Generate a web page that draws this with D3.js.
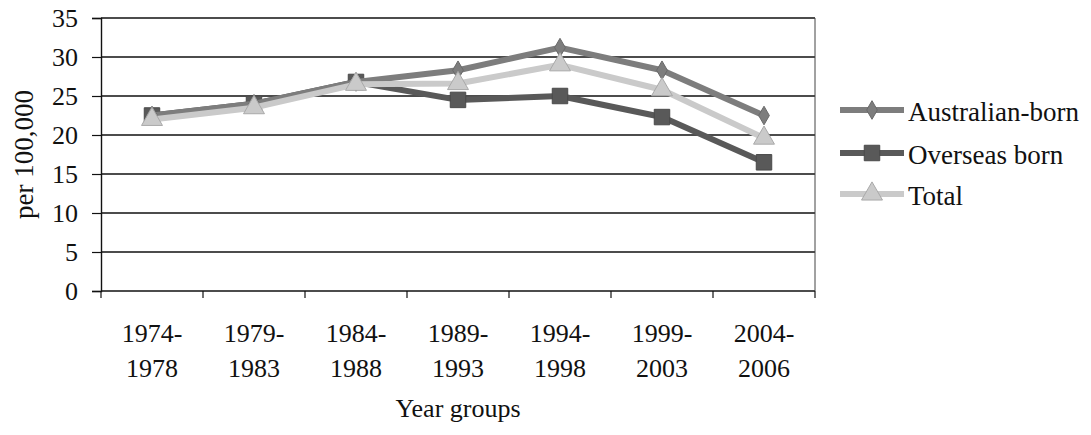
<!doctype html>
<html>
<head>
<meta charset="utf-8">
<script src="https://d3js.org/d3.v7.min.js"></script>
<style>
  body { margin: 0; background: #fff; }
  text { font-family: "Liberation Serif", "Times New Roman", serif; fill: #111; }
</style>
</head>
<body>
<svg width="1091" height="435"></svg>
<script>
// data
var periods = ["1974-1978", "1979-1983", "1984-1988", "1989-1993", "1994-1998", "1999-2003", "2004-2006"];
var australianBorn = [22.5, 24, 26.8, 28.3, 31.2, 28.3, 22.5];
var overseasBorn = [22.5, 24, 26.8, 24.5, 25, 22.3, 16.5];
var total = [22, 23.5, 26.5, 26.6, 29, 25.8, 19.6];
var yTicks = [0, 5, 10, 15, 20, 25, 30, 35];

var series = [
  { name: "Australian-born", values: australianBorn, color: "#7d7d7d", marker: "diamond" },
  { name: "Overseas born", values: overseasBorn, color: "#595959", marker: "square" },
  { name: "Total", values: total, color: "#cacaca", marker: "triangle" }
];

var svg = d3.select("svg");
var plotLeft = 101, plotRight = 815, plotTop = 18, plotBottom = 291;

var x = d3.scaleBand().domain(periods).range([plotLeft, plotRight]);
var y = d3.scaleLinear().domain([0, 35]).range([plotBottom, plotTop]);

// gridlines
svg.append("g").selectAll("line")
  .data(yTicks)
  .enter().append("line")
  .attr("x1", plotLeft).attr("x2", plotRight)
  .attr("y1", function (d) { return y(d); })
  .attr("y2", function (d) { return y(d); })
  .attr("stroke", "#111").attr("stroke-width", 1.4);

// right border
svg.append("line")
  .attr("x1", plotRight).attr("x2", plotRight).attr("y1", plotTop).attr("y2", plotBottom)
  .attr("stroke", "#444").attr("stroke-width", 1);

// y axis
var yAxis = svg.append("g")
  .attr("transform", "translate(" + plotLeft + ",0)")
  .call(d3.axisLeft(y).tickValues(yTicks).tickSize(9).tickPadding(14));
yAxis.select(".domain").attr("stroke", "#111").attr("stroke-width", 1.4);
yAxis.selectAll(".tick line").attr("stroke", "#111").attr("stroke-width", 1.2);
yAxis.selectAll(".tick text")
  .attr("font-size", "26px")
  .attr("font-family", "Liberation Serif, serif")
  .attr("fill", "#111");

// x axis: ticks at band edges
var edges = periods.map(function (p) { return x(p); }).concat([plotRight]);
svg.append("g").selectAll("line")
  .data(edges)
  .enter().append("line")
  .attr("x1", function (d) { return d; }).attr("x2", function (d) { return d; })
  .attr("y1", plotBottom).attr("y2", plotBottom + 7)
  .attr("stroke", "#111").attr("stroke-width", 1.2);

var xLabels = svg.append("g").selectAll("text")
  .data(periods)
  .enter().append("text")
  .attr("text-anchor", "middle")
  .attr("font-size", "26px");
xLabels.append("tspan")
  .attr("x", function (d) { return x(d) + x.bandwidth() / 2; })
  .attr("y", 342)
  .text(function (d) { return d.split("-")[0] + "-"; });
xLabels.append("tspan")
  .attr("x", function (d) { return x(d) + x.bandwidth() / 2; })
  .attr("y", 377)
  .text(function (d) { return d.split("-")[1]; });

// axis titles
svg.append("text")
  .attr("x", (plotLeft + plotRight) / 2).attr("y", 417)
  .attr("text-anchor", "middle").attr("font-size", "26px")
  .text("Year groups");
svg.append("text")
  .attr("transform", "translate(33," + ((plotTop + plotBottom) / 2) + ") rotate(-90)")
  .attr("text-anchor", "middle").attr("font-size", "27px")
  .text("per 100,000");

function markerPath(type) {
  if (type === "diamond") return d3.symbol().type(d3.symbolDiamond).size(100)();
  if (type === "square") return d3.symbol().type(d3.symbolSquare).size(240)();
  return d3.symbol().type(d3.symbolTriangle).size(190)();
}

var line = d3.line()
  .x(function (d, i) { return x(periods[i]) + x.bandwidth() / 2; })
  .y(function (d) { return y(d); });

var order = [series[1], series[0], series[2]];
order.forEach(function (s) {
  svg.append("path")
    .datum(s.values)
    .attr("d", line)
    .attr("fill", "none")
    .attr("stroke", s.color)
    .attr("stroke-width", 6)
    .attr("stroke-linejoin", "round");
  svg.append("g").selectAll("path")
    .data(s.values)
    .enter().append("path")
    .attr("d", markerPath(s.marker))
    .attr("transform", function (d, i) {
      return "translate(" + (x(periods[i]) + x.bandwidth() / 2) + "," + y(d) + ")";
    })
    .attr("fill", s.color)
    .attr("stroke", d3.color(s.color).darker(0.5))
    .attr("stroke-width", 1);
});

// legend
var legend = svg.append("g");
var legendY = [110, 153, 194];
series.forEach(function (s, i) {
  var g = legend.append("g").attr("transform", "translate(0," + legendY[i] + ")");
  g.append("line")
    .attr("x1", 840).attr("x2", 904).attr("y1", 0).attr("y2", 0)
    .attr("stroke", s.color).attr("stroke-width", 6);
  g.append("path")
    .attr("d", markerPath(s.marker))
    .attr("transform", "translate(872,0)")
    .attr("fill", s.color)
    .attr("stroke", d3.color(s.color).darker(0.5));
  g.append("text")
    .attr("x", 908).attr("y", 11)
    .attr("font-size", "27px")
    .text(s.name);
});
</script>
</body>
</html>
